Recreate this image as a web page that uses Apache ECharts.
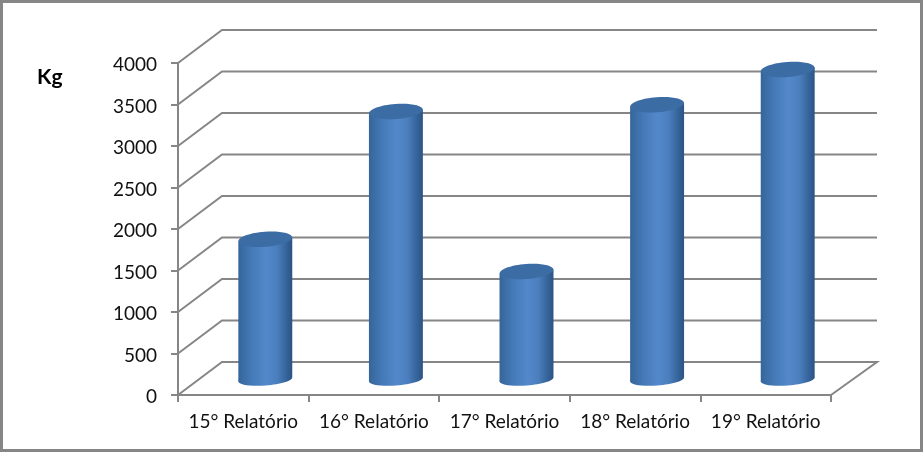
<!DOCTYPE html>
<html><head><meta charset="utf-8">
<style>html,body{margin:0;padding:0;background:#fff}#c{width:923px;height:452px}</style>
<script src="https://cdn.jsdelivr.net/npm/echarts@6/dist/echarts.min.js"></script>
</head><body><div id="c"></div>
<script>
const categories = ['15° Relatório','16° Relatório','17° Relatório','18° Relatório','19° Relatório'];
const values = [1690, 3230, 1300, 3310, 3735];
const gridValues = [0,500,1000,1500,2000,2500,3000,3500,4000];
const unit = 'Kg';

const GRAY = '#868686', DX = 44, DY = 33, RIGHT_EXTRA = 46;
const chart = echarts.init(document.getElementById('c'), null, {renderer:'canvas'});
const bodyFill = {type:'linear',x:0,y:0,x2:1,y2:0,colorStops:[
  {offset:0,color:'#356599'},{offset:0.25,color:'#457ab8'},{offset:0.52,color:'#5388cb'},
  {offset:0.72,color:'#4a7ebd'},{offset:0.92,color:'#325f94'},{offset:1,color:'#2c5484'}]};

chart.setOption({
  animation:false,
  backgroundColor:'#fff',
  title:{text:unit,left:32,top:62,textStyle:{fontFamily:'Lato',fontWeight:'bold',fontSize:21,color:'#000'}},
  grid:{left:178,right:92,top:63,bottom:57},
  graphic:[{type:'rect',silent:true,shape:{x:1.5,y:1.5,width:920,height:449},style:{fill:'none',stroke:GRAY,lineWidth:3},z:100}],
  xAxis:{type:'category',data:categories,
    axisLine:{lineStyle:{color:GRAY,width:2}},
    axisTick:{show:true,alignWithLabel:false,length:7,lineStyle:{color:GRAY,width:2}},
    axisLabel:{color:'#111',fontFamily:'Lato',fontSize:19,margin:17,interval:0},
    splitLine:{show:false}},
  yAxis:{type:'value',min:0,max:4000,interval:500,
    axisLine:{show:true,lineStyle:{color:GRAY,width:2}},
    axisTick:{show:true,length:7,lineStyle:{color:GRAY,width:2}},
    axisLabel:{color:'#111',fontFamily:'Lato',fontSize:19,margin:21,
      formatter:v=>'{n|'+v+'}',
      rich:{n:{color:'#111',fontFamily:'Lato',fontSize:19,padding:[4,0,0,0]}}},
    splitLine:{show:false}},
  series:[
    {type:'custom',z:1,silent:true,clip:false,data:gridValues,
     renderItem(params,api){
       const y=api.coord([0,api.value(0)])[1], cs=params.coordSys, x0=cs.x, x1=cs.x+cs.width;
       const pts=[[x0,y],[x0+DX,y-DY],[x1+RIGHT_EXTRA,y-DY]];
       if(api.value(0)===0) pts.push([x1,y]);
       return {type:'polyline',shape:{points:pts},style:{fill:'none',stroke:GRAY,lineWidth:2}};
     },encode:{y:0}},
    {type:'custom',z:5,silent:true,clip:false,data:values.map((v,i)=>[i,v]),encode:{x:0,y:1},
     renderItem(params,api){
       const a=api.coord([api.value(0),0]), b=api.coord([api.value(0),api.value(1)]);
       const w=api.size([1,0])[0]*0.413, cx=a[0]+22, by=a[1]-15.5, ty=b[1]-15.5, t=2;
       const rot=Math.atan2(t*2,w);
       const ell=(y,fill,rr)=>({type:'ellipse',x:cx,y:y,rotation:rot,
         shape:{cx:0,cy:0,rx:w/2,ry:rr},style:{fill:fill}});
       return {type:'group',children:[
         ell(by,bodyFill,6),
         {type:'polygon',shape:{points:[[cx-w/2,ty+t],[cx+w/2,ty-t],[cx+w/2,by-t],[cx-w/2,by+t]]},style:{fill:bodyFill}},
         ell(ty,'#3b6ca3',7.5)
       ]};
     }}
  ]
});
</script></body></html>
